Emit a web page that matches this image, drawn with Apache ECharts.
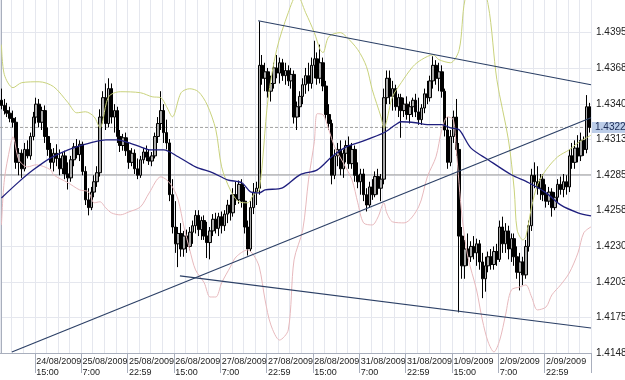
<!DOCTYPE html>
<html><head><meta charset="utf-8">
<script src="https://cdn.jsdelivr.net/npm/echarts@6/dist/echarts.min.js"></script>
<style>html,body{margin:0;padding:0;background:#fff}#c{width:625px;height:380px}</style>
</head><body><div id="c"></div>
<script>
// [open, close, low, high] per hourly bar
const ohlc = [
[1.4343,1.4339,1.4336,1.4352],[1.4339,1.4335,1.4332,1.4344],[1.4335,1.4333,1.4330,1.4341],[1.4333,1.4329,1.4326,1.4338],
[1.4329,1.4326,1.4322,1.4335],[1.4326,1.4295,1.4290,1.4330],[1.4295,1.4302,1.4285,1.4306],[1.4302,1.4290,1.4283,1.4305],
[1.4290,1.4305,1.4288,1.4310],[1.4305,1.4300,1.4298,1.4312],[1.4300,1.4315,1.4297,1.4318],[1.4315,1.4330,1.4312,1.4334],
[1.4330,1.4340,1.4325,1.4345],[1.4340,1.4326,1.4322,1.4344],[1.4326,1.4335,1.4320,1.4338],[1.4335,1.4315,1.4310,1.4339],
[1.4315,1.4305,1.4300,1.4322],[1.4305,1.4295,1.4290,1.4310],[1.4295,1.4302,1.4288,1.4306],[1.4302,1.4298,1.4292,1.4309],
[1.4298,1.4290,1.4285,1.4305],[1.4290,1.4300,1.4286,1.4303],[1.4300,1.4286,1.4282,1.4304],[1.4286,1.4283,1.4274,1.4295],
[1.4283,1.4297,1.4280,1.4300],[1.4297,1.4307,1.4292,1.4310],[1.4307,1.4301,1.4298,1.4313],[1.4301,1.4309,1.4296,1.4312],
[1.4309,1.4288,1.4285,1.4311],[1.4288,1.4266,1.4262,1.4292],[1.4266,1.4260,1.4254,1.4275],[1.4260,1.4272,1.4258,1.4276],
[1.4272,1.4280,1.4268,1.4285],[1.4280,1.4287,1.4276,1.4292],[1.4287,1.4330,1.4284,1.4336],[1.4330,1.4345,1.4325,1.4350],
[1.4345,1.4325,1.4320,1.4356],[1.4325,1.4352,1.4322,1.4360],[1.4352,1.4330,1.4325,1.4356],[1.4330,1.4335,1.4318,1.4340],
[1.4335,1.4315,1.4310,1.4338],[1.4315,1.4308,1.4303,1.4320],[1.4308,1.4314,1.4304,1.4317],[1.4314,1.4304,1.4300,1.4318],
[1.4304,1.4295,1.4290,1.4310],[1.4295,1.4302,1.4292,1.4306],[1.4302,1.4290,1.4286,1.4305],[1.4290,1.4285,1.4282,1.4298],
[1.4285,1.4297,1.4283,1.4300],[1.4297,1.4303,1.4294,1.4306],[1.4303,1.4299,1.4296,1.4308],[1.4299,1.4296,1.4293,1.4305],
[1.4296,1.4300,1.4292,1.4303],[1.4300,1.4315,1.4298,1.4318],[1.4315,1.4325,1.4310,1.4330],[1.4325,1.4335,1.4320,1.4350],
[1.4335,1.4318,1.4310,1.4340],[1.4318,1.4310,1.4305,1.4328],[1.4310,1.4270,1.4265,1.4313],[1.4270,1.4245,1.4240,1.4282],
[1.4245,1.4232,1.4225,1.4265],[1.4232,1.4240,1.4214,1.4245],[1.4240,1.4228,1.4222,1.4248],[1.4228,1.4238,1.4222,1.4242],
[1.4238,1.4230,1.4225,1.4243],[1.4230,1.4241,1.4227,1.4245],[1.4241,1.4246,1.4232,1.4250],[1.4246,1.4254,1.4240,1.4258],
[1.4254,1.4243,1.4238,1.4258],[1.4243,1.4250,1.4235,1.4253],[1.4250,1.4238,1.4235,1.4254],[1.4238,1.4233,1.4221,1.4249],
[1.4233,1.4242,1.4220,1.4245],[1.4242,1.4251,1.4238,1.4255],[1.4251,1.4244,1.4240,1.4256],[1.4244,1.4253,1.4238,1.4256],
[1.4253,1.4246,1.4240,1.4257],[1.4246,1.4255,1.4242,1.4258],[1.4255,1.4262,1.4248,1.4266],[1.4262,1.4256,1.4250,1.4270],
[1.4256,1.4270,1.4253,1.4275],[1.4270,1.4266,1.4262,1.4280],[1.4266,1.4278,1.4263,1.4281],[1.4278,1.4265,1.4260,1.4282],
[1.4265,1.4245,1.4240,1.4276],[1.4245,1.4228,1.4223,1.4250],[1.4228,1.4260,1.4226,1.4265],[1.4260,1.4272,1.4255,1.4279],
[1.4272,1.4275,1.4262,1.4280],[1.4275,1.4370,1.4270,1.4404],[1.4370,1.4360,1.4355,1.4378],[1.4360,1.4365,1.4350,1.4372],
[1.4365,1.4350,1.4345,1.4368],[1.4350,1.4356,1.4342,1.4362],[1.4356,1.4368,1.4352,1.4372],[1.4368,1.4364,1.4360,1.4378],
[1.4364,1.4372,1.4356,1.4376],[1.4372,1.4362,1.4358,1.4375],[1.4362,1.4366,1.4355,1.4372],[1.4366,1.4358,1.4354,1.4370],
[1.4358,1.4363,1.4352,1.4368],[1.4363,1.4330,1.4325,1.4366],[1.4330,1.4338,1.4320,1.4342],[1.4338,1.4346,1.4330,1.4350],
[1.4346,1.4355,1.4340,1.4360],[1.4355,1.4362,1.4348,1.4368],[1.4362,1.4356,1.4350,1.4372],[1.4356,1.4370,1.4352,1.4376],
[1.4370,1.4375,1.4360,1.4389],[1.4375,1.4360,1.4355,1.4380],[1.4360,1.4372,1.4356,1.4386],[1.4372,1.4354,1.4350,1.4376],
[1.4354,1.4332,1.4328,1.4358],[1.4332,1.4325,1.4320,1.4340],[1.4325,1.4285,1.4278,1.4328],[1.4285,1.4300,1.4282,1.4305],
[1.4300,1.4305,1.4292,1.4310],[1.4305,1.4290,1.4285,1.4312],[1.4290,1.4302,1.4283,1.4305],[1.4302,1.4308,1.4295,1.4312],
[1.4308,1.4294,1.4290,1.4315],[1.4294,1.4305,1.4290,1.4310],[1.4305,1.4285,1.4280,1.4308],[1.4285,1.4280,1.4275,1.4295],
[1.4280,1.4286,1.4270,1.4290],[1.4286,1.4270,1.4265,1.4290],[1.4270,1.4262,1.4257,1.4275],[1.4262,1.4276,1.4260,1.4280],
[1.4276,1.4270,1.4266,1.4282],[1.4270,1.4284,1.4268,1.4288],[1.4284,1.4275,1.4270,1.4290],[1.4275,1.4282,1.4265,1.4286],
[1.4282,1.4345,1.4278,1.4352],[1.4345,1.4360,1.4340,1.4366],[1.4360,1.4346,1.4340,1.4366],[1.4346,1.4352,1.4335,1.4358],
[1.4352,1.4338,1.4335,1.4355],[1.4338,1.4345,1.4330,1.4348],[1.4345,1.4335,1.4314,1.4348],[1.4335,1.4340,1.4330,1.4345],
[1.4340,1.4332,1.4328,1.4346],[1.4332,1.4338,1.4325,1.4342],[1.4338,1.4343,1.4330,1.4345],[1.4343,1.4334,1.4330,1.4348],
[1.4334,1.4328,1.4324,1.4345],[1.4328,1.4337,1.4324,1.4340],[1.4337,1.4348,1.4333,1.4352],[1.4348,1.4345,1.4340,1.4358],
[1.4345,1.4358,1.4342,1.4362],[1.4358,1.4370,1.4352,1.4377],[1.4370,1.4360,1.4355,1.4374],[1.4360,1.4365,1.4350,1.4372],
[1.4365,1.4350,1.4345,1.4370],[1.4350,1.4320,1.4315,1.4352],[1.4320,1.4295,1.4290,1.4330],[1.4295,1.4315,1.4292,1.4320],
[1.4315,1.4330,1.4310,1.4335],[1.4330,1.4305,1.4300,1.4344],[1.4305,1.4238,1.4179,1.4310],[1.4238,1.4215,1.4205,1.4245],
[1.4215,1.4228,1.4205,1.4235],[1.4228,1.4222,1.4215,1.4240],[1.4222,1.4230,1.4218,1.4234],[1.4230,1.4225,1.4220,1.4238],
[1.4225,1.4232,1.4215,1.4236],[1.4232,1.4218,1.4212,1.4235],[1.4218,1.4205,1.4190,1.4225],[1.4205,1.4215,1.4195,1.4222],
[1.4215,1.4222,1.4210,1.4226],[1.4222,1.4216,1.4212,1.4228],[1.4216,1.4226,1.4212,1.4230],[1.4226,1.4220,1.4215,1.4232],
[1.4220,1.4245,1.4218,1.4250],[1.4245,1.4232,1.4225,1.4253],[1.4232,1.4242,1.4225,1.4248],[1.4242,1.4228,1.4220,1.4246],
[1.4228,1.4236,1.4218,1.4240],[1.4236,1.4222,1.4215,1.4240],[1.4222,1.4210,1.4205,1.4230],[1.4210,1.4218,1.4196,1.4225],
[1.4218,1.4208,1.4200,1.4222],[1.4208,1.4230,1.4205,1.4235],[1.4230,1.4246,1.4226,1.4250],[1.4246,1.4285,1.4242,1.4290],
[1.4285,1.4280,1.4275,1.4295],[1.4280,1.4275,1.4270,1.4292],[1.4275,1.4282,1.4266,1.4286],[1.4282,1.4270,1.4265,1.4286],
[1.4270,1.4265,1.4260,1.4278],[1.4265,1.4272,1.4262,1.4276],[1.4272,1.4260,1.4253,1.4275],[1.4260,1.4268,1.4258,1.4272],
[1.4268,1.4278,1.4264,1.4282],[1.4278,1.4274,1.4270,1.4284],[1.4274,1.4280,1.4268,1.4286],[1.4280,1.4276,1.4270,1.4285],
[1.4276,1.4300,1.4272,1.4305],[1.4300,1.4295,1.4290,1.4310],[1.4295,1.4306,1.4290,1.4312],[1.4306,1.4300,1.4295,1.4316],
[1.4300,1.4312,1.4296,1.4318],[1.4312,1.4305,1.4300,1.4315],[1.4305,1.4338,1.4302,1.4347],[1.4338,1.4322,1.4318,1.4341]
];

// x-axis tick labels and the bar index each one sits on
const tickBars = [12,28,44,60,76,92,108,124,140,156,172,188];
const tickLabels = ['24/08/2009\n15:00','25/08/2009\n7:00','25/08/2009\n22:59','26/08/2009\n15:00','27/08/2009\n7:00','27/08/2009\n22:59','28/08/2009\n15:00','31/08/2009\n7:00','31/08/2009\n22:59','1/09/2009\n15:00','2/09/2009\n7:00','2/09/2009\n22:59'];

// price axis: 1.4148, 1.4175 ... 1.4423
const yStep = 0.00275245;
const yMin = 1.4147593;
const yMax = 1.4422838;

const lastPrice = 1.4322;
const pivotLevel = 1.42853;

// [bar, price]
const maPoints = [[0,1.42675],[6,1.42799],[11,1.42892],[17,1.42985],[23,1.43047],[27,1.43078],[32,1.43109],[36,1.43124],[40,1.43124],[43,1.43109],[48,1.43070],[51,1.43047],[56,1.43047],[61,1.42993],[67,1.42915],[73,1.42869],[78,1.42815],[83,1.42792],[86,1.42722],[89,1.42714],[91,1.42737],[97,1.42753],[103,1.42853],[109,1.42892],[114,1.42993],[119,1.43070],[124,1.43109],[132,1.43179],[136,1.43241],[138,1.43264],[143,1.43256],[147,1.43241],[152,1.43241],[155,1.43217],[158,1.43202],[162,1.43062],[168,1.42970],[176,1.42854],[182,1.42792],[188,1.42714],[193,1.42621],[199,1.42560],[203.5,1.42536]];

const upperBand = [[0,1.43860],[1,1.43628],[4,1.43527],[7,1.43566],[13,1.43573],[18,1.43535],[23,1.43411],[26,1.43333],[29,1.43341],[32,1.43302],[34,1.43217],[37,1.43457],[41,1.43496],[48,1.43488],[52,1.43457],[55,1.43450],[57,1.43380],[59,1.43302],[62,1.43488],[65,1.43519],[68,1.43496],[71,1.43395],[74,1.43202],[76,1.42915],[79,1.42737],[82,1.42645],[85,1.42637],[87,1.42699],[89,1.42737],[92,1.43434],[95,1.43821],[99,1.44107],[102,1.44247],[105,1.44107],[108,1.43953],[110,1.43821],[111,1.43798],[113,1.43922],[117,1.43953],[119,1.43922],[123,1.43821],[126,1.43690],[128,1.43511],[131,1.43302],[132,1.43217],[135,1.43457],[138,1.43566],[142,1.43690],[145,1.43744],[149,1.43782],[151,1.43744],[155,1.43720],[158,1.43821],[160,1.44208],[164,1.44440],[168,1.44169],[171,1.43589],[175,1.43124],[177,1.42737],[178,1.42428],[180,1.42350],[181,1.42374],[183,1.42606],[185,1.42776],[188,1.42892],[192,1.42993],[196,1.43047],[199,1.43101],[203.5,1.43160]];

const lowerBand = [[0,1.42466],[1,1.42815],[3,1.43070],[4,1.43148],[6,1.42970],[9,1.42915],[12,1.42931],[17,1.42892],[18,1.42853],[23,1.42792],[27,1.42737],[30,1.42722],[32,1.42637],[34,1.42645],[36,1.42598],[38,1.42559],[41,1.42544],[44,1.42567],[48,1.42606],[51,1.42714],[55,1.42838],[57,1.42815],[59,1.42761],[61,1.42660],[63,1.42451],[65,1.42273],[67,1.42118],[70,1.42018],[72,1.41909],[74,1.41909],[76,1.42018],[79,1.42141],[81,1.42219],[85,1.42273],[87,1.42234],[89,1.42141],[91,1.41886],[93,1.41693],[96,1.41576],[99,1.41654],[101,1.42196],[104,1.42428],[106,1.42815],[108,1.43110],[109,1.43326],[111,1.43318],[113,1.43202],[115,1.43070],[118,1.42946],[121,1.42815],[123,1.42637],[125,1.42482],[128,1.42466],[130,1.42528],[132,1.42637],[133,1.42559],[135,1.42490],[139,1.42482],[144,1.42606],[147,1.42838],[150,1.42993],[152,1.43202],[154,1.43302],[156,1.43279],[157,1.43047],[159,1.42528],[161,1.42219],[164,1.41963],[166,1.41731],[168,1.41561],[170,1.41484],[172,1.41576],[174,1.41770],[176,1.41963],[179,1.41987],[181,1.42002],[183,1.41909],[185,1.41809],[188,1.41832],[190,1.41925],[193,1.42002],[196,1.42095],[199,1.42250],[201,1.42405],[203.5,1.42451]];

// hand-drawn trend lines: [bar, price] end points
const resistanceLine = [[88.6,1.44045],[203.5,1.43550]];
const supportLine = [[3.6,1.41484],[203.5,1.43295]];
const lowerChannel = [[61.6,1.42072],[203.5,1.41669]];

const categories = ohlc.map((d, i) => String(i));
const isTick = (i) => tickBars.indexOf(i) >= 0;
const xLo = -0.5, xHi = ohlc.length - 0.5;

const chart = echarts.init(document.getElementById('c'), null, {renderer: 'canvas'});
const lineSeries = (data, color, width, smooth, z, extra) => Object.assign({
  type: 'line', xAxisIndex: 1, yAxisIndex: 0, data: data, smooth: smooth,
  symbol: 'none', silent: true, z: z, animation: false,
  lineStyle: {color: color, width: width}
}, extra || {});

chart.setOption({
  animation: false,
  backgroundColor: '#ffffff',
  grid: {left: 0, right: 34, top: -3, bottom: 27, containLabel: false, outerBoundsMode: 'none'},
  xAxis: [{
    type: 'category', data: categories, boundaryGap: true,
    axisLine: {show: true, lineStyle: {color: '#a9afbd', width: 1}},
    axisTick: {show: true, interval: isTick, length: 20, lineStyle: {color: '#a9afbd'}},
    axisLabel: {
      interval: isTick,
      formatter: (v, i) => tickLabels[tickBars.indexOf(i)],
      align: 'left', verticalAlign: 'top', fontSize: 9, lineHeight: 11, margin: 3,
      color: '#222', fontFamily: 'Liberation Sans'
    },
    splitLine: {show: true, interval: (i) => i % 4 === 0, lineStyle: {color: '#e5e7ee', width: 1}}
  }, {
    type: 'value', min: xLo, max: xHi, show: false
  }],
  yAxis: {
    type: 'value', position: 'right', min: yMin, max: yMax, interval: yStep,
    axisLine: {show: true, lineStyle: {color: '#a9afbd'}},
    axisTick: {show: false},
    axisLabel: {formatter: (v) => v.toFixed(4), fontSize: 10, color: '#222', margin: 5, fontFamily: 'Liberation Sans'},
    splitLine: {show: true, lineStyle: {color: '#e5e7ee', width: 1}}
  },
  series: [
    {
      type: 'candlestick', xAxisIndex: 0, yAxisIndex: 0, data: ohlc, barWidth: 3, z: 2,
      itemStyle: {color: '#aaaaaa', color0: '#000000', borderColor: '#000000', borderColor0: '#000000', borderWidth: 1}
    },
    lineSeries([[xLo, pivotLevel], [xHi, pivotLevel]], '#9c9c9c', 1, false, 1),
    lineSeries([[xLo, lastPrice], [xHi, lastPrice]], '#a0a0a0', 1, false, 1, {
      lineStyle: {color: '#a0a0a0', width: 1, type: [3, 2]},
      endLabel: {show: true, formatter: '1.4322', backgroundColor: '#bccde8', color: '#1b2b55',
                 fontSize: 10, padding: [1, 3, 0, 3], distance: 1, fontFamily: 'Liberation Sans'}
    }),
    lineSeries(upperBand, '#c9d27c', 1, 0.3, 3),
    lineSeries(lowerBand, '#e7b9bd', 1, 0.3, 3),
    lineSeries(maPoints, '#1f1f7e', 1.3, 0.3, 4),
    lineSeries(resistanceLine, '#2c4066', 1.2, false, 5),
    lineSeries(supportLine, '#2c4066', 1.2, false, 5),
    lineSeries(lowerChannel, '#2c4066', 1.2, false, 5)
  ]
});
</script>
</body></html>
